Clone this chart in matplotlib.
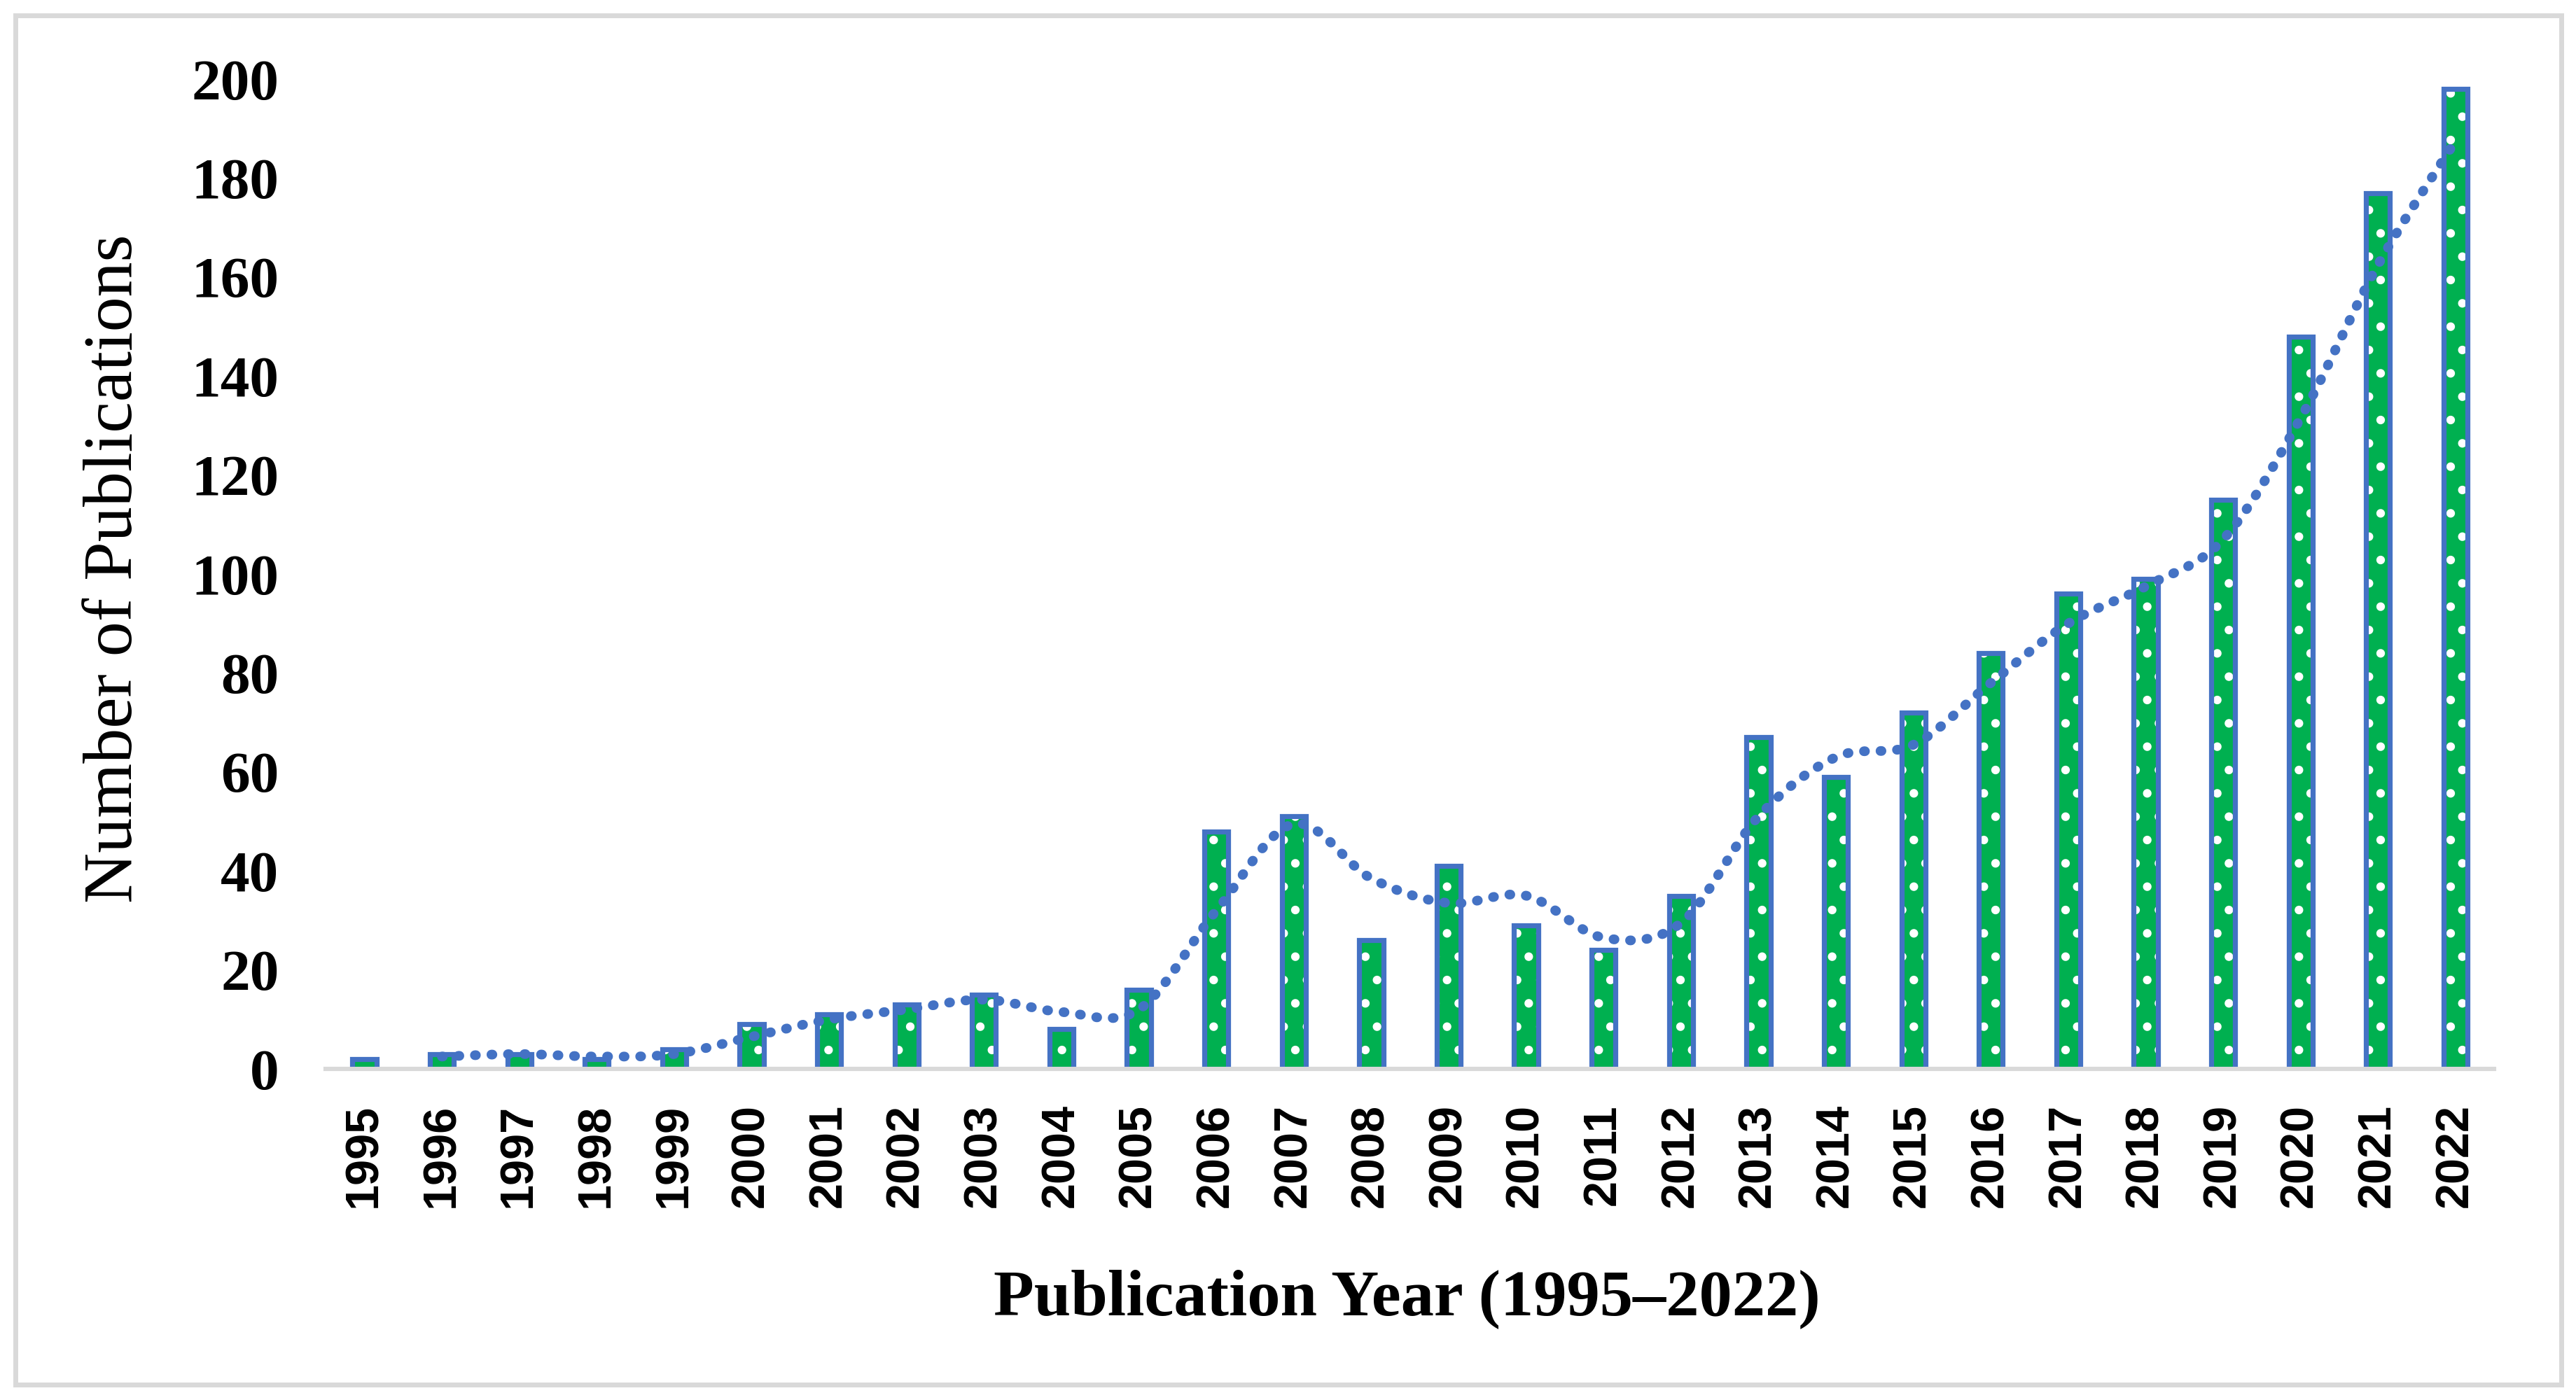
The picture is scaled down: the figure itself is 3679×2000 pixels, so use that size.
import matplotlib.pyplot as plt
import numpy as np
from matplotlib.patches import Rectangle

years = [str(y) for y in range(1995, 2023)]
publications = [2, 3, 3, 2, 4, 9, 11, 13, 15, 8, 16, 48, 51, 26, 41,
                29, 24, 35, 67, 59, 72, 84, 96, 99, 115, 148, 177, 198]
y_ticks = [0, 20, 40, 60, 80, 100, 120, 140, 160, 180, 200]

GREEN = "#00B050"
BLUE = "#4472C4"
GREY = "#D9D9D9"

plt.rcParams["hatch.linewidth"] = 2.0


def moving_average(values, period=2):
    """
        Excel style moving average, first point at index period-1
    """
    return [sum(values[i - period + 1:i + 1]) / period
            for i in range(period - 1, len(values))]


def smooth_curve(xs, ys, steps=30):
    """
        Catmull-Rom like bezier smoothing (close to Excel smoothed line)
    """
    pts = np.column_stack([xs, ys]).astype(float)
    out = []
    for i in range(len(pts) - 1):
        p0 = pts[i - 1] if i > 0 else pts[i]
        p1 = pts[i]
        p2 = pts[i + 1]
        p3 = pts[i + 2] if i + 2 < len(pts) else pts[i + 1]
        c1 = p1 + (p2 - p0) / 6
        c2 = p2 - (p3 - p1) / 6
        t = np.linspace(0, 1, steps, endpoint=(i == len(pts) - 2))[:, None]
        seg = ((1 - t) ** 3 * p1 + 3 * (1 - t) ** 2 * t * c1
               + 3 * (1 - t) * t ** 2 * c2 + t ** 3 * p2)
        out.append(seg)
    out = np.vstack(out)
    return out[:, 0], out[:, 1]


fig = plt.figure(figsize=(18.4, 10), dpi=200)
ax = fig.add_axes([0.1264, 0.2365, 0.8416, 0.707])

x = np.arange(len(years))
width = 0.31

# dotted fill, then the blue outline on top
ax.bar(x, publications, width, color=GREEN, edgecolor="white",
       hatch=".", linewidth=0, zorder=1)
ax.bar(x, publications, width, fill=False, edgecolor=BLUE,
       linewidth=2.6, zorder=1.5)

ma = moving_average(publications, 2)
sx, sy = smooth_curve(x[1:], ma)
ax.plot(sx, sy, color=BLUE, linewidth=5.0, linestyle=(0, (0.1, 1.6)),
        dash_capstyle="round", zorder=3)

ax.set_xlim(-0.5, len(years) - 0.5)
ax.set_ylim(0, 200)

for side in ["top", "right", "left"]:
    ax.spines[side].set_visible(False)
ax.spines["bottom"].set_color(GREY)
ax.spines["bottom"].set_linewidth(2.2)

ax.set_xticks(x)
ax.set_xticklabels(years, rotation=90, fontsize=24, fontweight="bold",
                   family="Liberation Sans")
ax.set_yticks(y_ticks)
ax.set_yticklabels([str(v) for v in y_ticks], fontsize=30,
                   fontweight="bold", family="Liberation Serif")
ax.tick_params(axis="x", length=0, pad=18)
ax.tick_params(axis="y", length=0, pad=24)

fig.text(164 / 3680, 1 - 812 / 2000, "Number of Publications",
         rotation=90, ha="center", va="center", fontsize=36,
         family="Liberation Serif")
fig.text(2009 / 3680, 1 - 1856 / 2000, "Publication Year (1995\u20132022)",
         ha="center", va="center", fontsize=34, fontweight="bold",
         family="Liberation Serif")

fig.patches.append(Rectangle((22 / 3680, 22 / 2000), 1 - 44 / 3680,
                             1 - 44 / 2000, transform=fig.transFigure,
                             fill=False, edgecolor=GREY, linewidth=2.5))

fig.savefig("out.png", dpi=200)
